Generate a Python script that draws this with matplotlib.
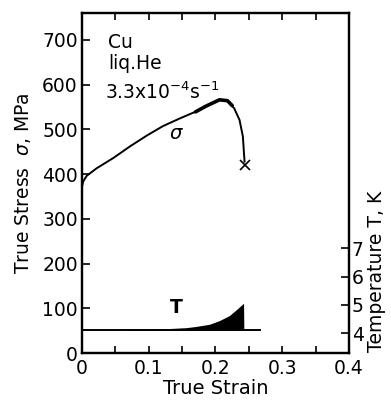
import matplotlib
matplotlib.use('Agg')
import matplotlib.pyplot as plt
import numpy as np

# STRESS-STRAIN CURVE
strain = [0.0, 0.002, 0.007, 0.022, 0.047, 0.072, 0.097, 0.121, 0.146, 0.171,
          0.186, 0.206, 0.218, 0.228, 0.236, 0.241, 0.2435]
stress = [372, 384, 396, 413, 436, 462, 486, 507, 524, 540,
          552, 566, 564, 547, 521, 484, 428]
# thick noisy band near the maximum
band_strain = [0.17, 0.186, 0.206, 0.218, 0.225]
band_stress = [539, 552, 566, 564, 553]
fracture = (0.2435, 421)

# TEMPERATURE RISE
T0 = 4.1
strain_T = [0.05, 0.106, 0.156, 0.17, 0.191, 0.206, 0.221, 0.233, 0.242, 0.2425]
T_top = [4.1, 4.14, 4.2, 4.24, 4.32, 4.45, 4.63, 4.87, 5.06, 4.1]
T_line_end = 0.266

plt.rcParams['font.family'] = 'DejaVu Sans'
fig = plt.figure(figsize=(3.91, 4.03), dpi=100)
ax = fig.add_axes([0.2097, 0.124, 0.6829, 0.8437])

ax.plot(strain, stress, color='black', lw=1.4)
ax.plot(band_strain, band_stress, color='black', lw=2.6, solid_capstyle='round')
ax.plot(*fracture, marker='x', color='black', ms=7, mew=1.2)

ax.set_xlim(0, 0.4)
ax.set_ylim(0, 760)
ax.set_xticks([0, 0.1, 0.2, 0.3, 0.4])
ax.set_xticklabels(['0', '0.1', '0.2', '0.3', '0.4'])
ax.set_xticks(np.arange(0.05, 0.4, 0.1), minor=True)
ax.set_yticks(range(0, 800, 100))
ax.tick_params(axis='x', which='both', direction='in', top=True, length=5, width=1.2,
               labelsize=13.5, pad=4)
ax.tick_params(axis='y', direction='in', length=6, width=1.2, labelsize=13.5, pad=3)
ax.tick_params(axis='y', right=False)
for s in ax.spines.values():
    s.set_linewidth(1.6)

ax.set_xlabel('True Strain', fontsize=14, labelpad=1)
ax.set_ylabel('True Stress  $\\sigma$, MPa', fontsize=13.5)
ax.yaxis.set_label_coords(-0.184, 0.5)

ax.text(0.039, 693, 'Cu', fontsize=13.5, va='center')
ax.text(0.039, 647, 'liq.He', fontsize=13.5, va='center')
ax.text(0.035, 584, '3.3x10$^{-4}$s$^{-1}$', fontsize=13.5, va='center')
ax.text(0.141, 490, '$\\sigma$', fontsize=14, ha='center', va='center')

ax2 = ax.twinx()
ax2.set_ylim(3.305, 15.3)
ax2.fill_between(strain_T, T0, T_top, color='black', lw=0)
ax2.plot([0, T_line_end], [T0, T0], color='black', lw=1.4)
ax2.text(0.141, 4.9, 'T', fontsize=13.5, fontweight='bold', ha='center', va='center')
ax2.set_yticks([4, 5, 6, 7])
ax2.tick_params(axis='y', direction='in', length=6, width=1.2, labelsize=13.5, pad=2)
for s in ax2.spines.values():
    s.set_linewidth(1.6)
ax2.set_ylabel('Temperature T, K', fontsize=13.5)
ax2.yaxis.set_label_coords(1.067, 0.241)

fig.savefig('out.png', dpi=100)
